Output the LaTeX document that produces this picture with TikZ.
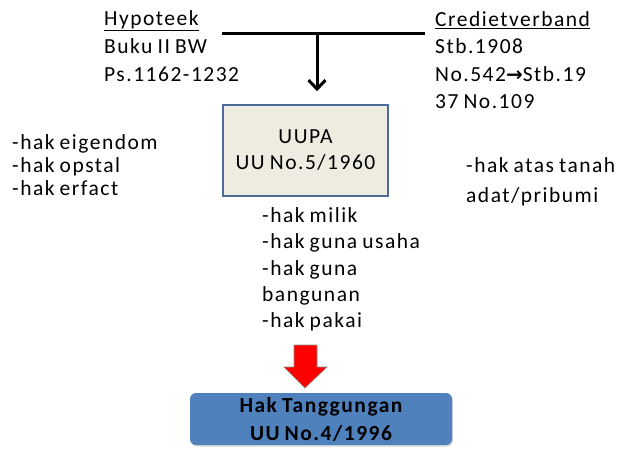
\documentclass[tikz,border=0pt]{standalone}
\usepackage{fontspec}
\setmainfont{Carlito}[LetterSpace=7,WordSpace=0.8]
\newfontfamily\arrowfont{DejaVu Sans}
\usetikzlibrary{arrows.meta,shadows}
\definecolor{boxfill}{HTML}{EEECE1}
\definecolor{boxline}{HTML}{4A6C96}
\definecolor{tgfill}{HTML}{4F81BD}
\tikzset{
	txt/.style={inner sep=0pt, anchor=north west, align=left, font=\fontsize{21.5}{#1}\selectfont},
	txt/.default=27,
	uupabox/.style={draw=boxline, line width=1.5pt, fill=boxfill, minimum width=165pt, minimum height=91pt, align=center, font=\fontsize{21.5}{26}\selectfont},
	tgbox/.style={fill=tgfill, rounded corners=6pt, minimum width=262pt, minimum height=52pt, align=center, font=\bfseries\fontsize{21.5}{28}\selectfont, drop shadow={opacity=0.3, shadow xshift=1pt, shadow yshift=-1.5pt}}
}
\begin{document}
\begin{tikzpicture}[x=1pt,y=-1pt]
	\useasboundingbox (0,0) rectangle (623,448);
	\node[txt=28] (hypo) at (104,10.5) {\underline{Hypoteek}\\Buku II BW\\Ps.1162-1232};
	\node[txt=27.3] (credit) at (435,11.5) {\underline{Credietverband}\\Stb.1908\\No.542{\arrowfont\bfseries\fontsize{20}{20}\selectfont →}Stb.19\\37 No.109};
	\node[uupabox] (uupa) at (305.5,150.5) {UUPA\\UU No.5/1960};
	\node[txt=23] (barat) at (12,134.5) {-hak eigendom\\-hak opstal\\-hak erfact};
	\node[txt=30] (adat) at (466,157.5) {-hak atas tanah\\adat/pribumi};
	\node[txt=26.3] (uupahak) at (262,207.5) {-hak milik\\-hak guna usaha\\-hak guna\\bangunan\\-hak pakai};
	\node[tgbox] (ht) at (321,419) {Hak Tanggungan\\UU No.4/1996};
	% joining line and arrow into UUPA
	\coordinate (lineL) at (222,33);
	\coordinate (lineR) at (425,33);
	\coordinate (join) at (317,33);
	\draw[line width=3pt] (lineL) -- (lineR);
	\draw[line width=3pt, -{Straight Barb[length=9pt,width=17pt]}, shorten >=13pt] (join) -- (join |- uupa.north);
	% red block arrow
	\filldraw[fill=red, draw=black!45, line width=0.6pt] (294,345) -- (317,345) -- (317,367) -- (327,367) -- (305,388) -- (284,367) -- (294,367) -- cycle;
\end{tikzpicture}
\end{document}
